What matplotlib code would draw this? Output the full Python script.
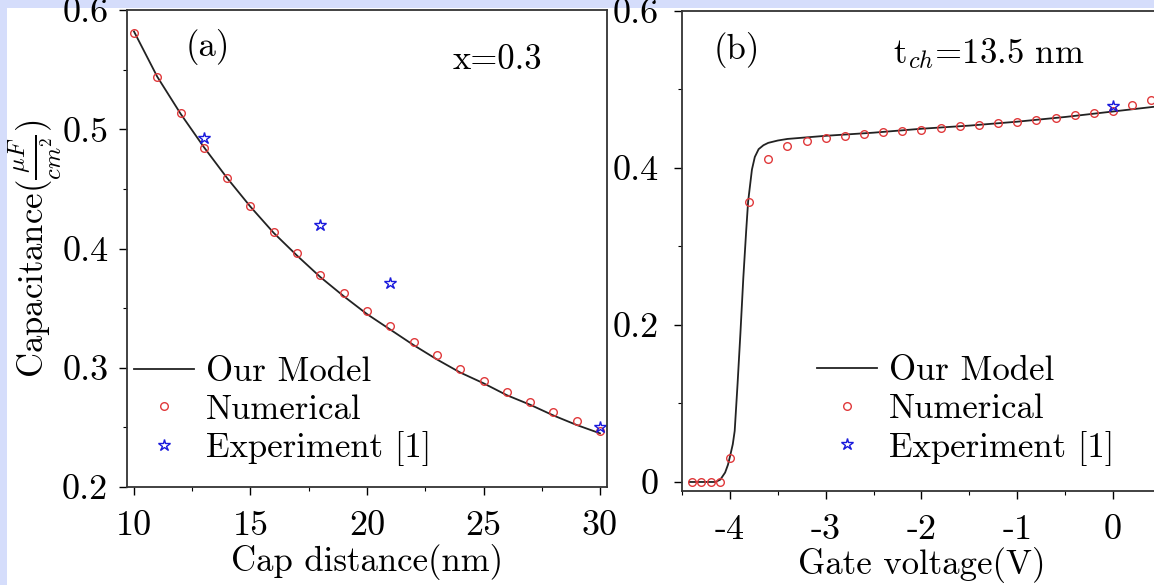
import matplotlib
matplotlib.use("Agg")
import matplotlib.pyplot as plt
from matplotlib.patches import Rectangle
from matplotlib.ticker import MultipleLocator

plt.rcParams['font.family'] = ['cmr10', 'DejaVu Serif']
plt.rcParams['mathtext.fontset'] = 'cm'
plt.rcParams['axes.unicode_minus'] = False
plt.rcParams['axes.formatter.use_mathtext'] = False

# (a) capacitance vs cap distance
cap_dist = [10, 11, 12, 13, 14, 15, 16, 17, 18, 19, 20,
            21, 22, 23, 24, 25, 26, 27, 28, 29, 30]
cap_num = [0.581, 0.544, 0.514, 0.484, 0.459, 0.436, 0.414, 0.396, 0.378, 0.363, 0.348,
           0.335, 0.322, 0.311, 0.299, 0.289, 0.280, 0.271, 0.263, 0.255, 0.247]
cap_model = [0.582, 0.544, 0.513, 0.485, 0.459, 0.435, 0.413, 0.394, 0.376, 0.360, 0.345,
             0.332, 0.319, 0.307, 0.296, 0.287, 0.277, 0.269, 0.260, 0.252, 0.245]
exp_dist = [13, 18, 21, 30]
exp_cap = [0.4925, 0.420, 0.371, 0.2505]

# (b) capacitance vs gate voltage
vg_num = [-4.4, -4.3, -4.2, -4.1, -4.0, -3.8, -3.6, -3.4, -3.2, -3.0, -2.8, -2.6, -2.4,
          -2.2, -2.0, -1.8, -1.6, -1.4, -1.2, -1.0, -0.8, -0.6, -0.4, -0.2, 0.0, 0.2, 0.4]
cg_num = [0.0, 0.0, 0.0, 0.0, 0.031, 0.357, 0.411, 0.428, 0.434, 0.438, 0.441, 0.443, 0.446,
          0.447, 0.449, 0.451, 0.453, 0.455, 0.457, 0.458, 0.461, 0.464, 0.467, 0.470, 0.473,
          0.480, 0.487]
vg_model = [-4.42, -4.2, -4.15, -4.1, -4.05, -4.02, -4.0, -3.97, -3.95, -3.92, -3.89, -3.86,
            -3.83, -3.81, -3.77, -3.74, -3.70, -3.65, -3.6, -3.5, -3.4, -3.2, -3.0, -2.5,
            -2.0, -1.5, -1.0, -0.5, 0.0, 0.5]
cg_model = [0.0, 0.0, 0.0, 0.003, 0.012, 0.022, 0.032, 0.048, 0.065, 0.125, 0.19, 0.26,
            0.32, 0.357, 0.398, 0.414, 0.424, 0.429, 0.432, 0.435, 0.437, 0.439, 0.441, 0.445,
            0.450, 0.454, 0.459, 0.465, 0.472, 0.479]
exp_vg = [0.0]
exp_cg = [0.479]

FS = 25
TFS = 26
red = '#e0393b'
blue = '#1a1adc'

fig = plt.figure(figsize=(11.54, 5.85), dpi=100)
fig.patch.set_facecolor('#d5ddfb')
fig.patches.append(Rectangle((7 / 1154, 0), 1, 1 - 8 / 585, transform=fig.transFigure,
                             facecolor='white', edgecolor='none', zorder=-10))

ax1 = fig.add_axes([127 / 1154, 1 - 487 / 585, 480 / 1154, 477 / 585])
ax2 = fig.add_axes([682 / 1154, 1 - 491 / 585, 479 / 1154, 480 / 585])

leg_kw = dict(frameon=False, fontsize=FS, handlelength=1.73, handletextpad=0.33,
              labelspacing=0.17, borderpad=0.0, borderaxespad=0.0, loc='lower left')

ax1.plot(cap_dist, cap_model, color='#222222', lw=1.3, label='Our Model')
ax1.plot(cap_dist, cap_num, 'o', mfc='none', mec=red, ms=5.5, mew=1.0, label='Numerical')
ax1.plot(exp_dist, exp_cap, '*', mfc='none', mec=blue, ms=9, mew=1.0, label='Experiment [1]')
ax1.set_xlim(9.7, 30.3)
ax1.set_ylim(0.2, 0.6)
ax1.xaxis.set_minor_locator(MultipleLocator(2.5))
ax1.yaxis.set_minor_locator(MultipleLocator(0.05))
ax1.set_xticks([10, 15, 20, 25, 30], ['10', '15', '20', '25', '30'])
ax1.set_yticks([0.2, 0.3, 0.4, 0.5, 0.6], ['0.2', '0.3', '0.4', '0.5', '0.6'])
ax1.set_xlabel('Cap distance(nm)', fontsize=FS, labelpad=2)
ax1.set_ylabel(r'Capacitance($\frac{\mu F}{cm^2}$)', fontsize=FS, labelpad=-2)
ax1.text(0.123, 0.922, '(a)', transform=ax1.transAxes, fontsize=FS, ha='left', va='center')
ax1.text(0.679, 0.895, 'x=0.3', transform=ax1.transAxes, fontsize=FS, ha='left', va='center')
ax1.legend(bbox_to_anchor=(0.0146, 0.043), **leg_kw)

ax2.plot(vg_model, cg_model, color='#222222', lw=1.3, label='Our Model')
ax2.plot(vg_num, cg_num, 'o', mfc='none', mec=red, ms=5.5, mew=1.0, label='Numerical')
ax2.plot(exp_vg, exp_cg, '*', mfc='none', mec=blue, ms=9, mew=1.0, label='Experiment [1]')
ax2.set_xlim(-4.5, 0.5)
ax2.set_ylim(-0.0115, 0.6)
ax2.xaxis.set_minor_locator(MultipleLocator(0.5))
ax2.yaxis.set_minor_locator(MultipleLocator(0.1))
ax2.set_xticks([-4, -3, -2, -1, 0], ['-4', '-3', '-2', '-1', '0'])
ax2.set_yticks([0, 0.2, 0.4, 0.6], ['0', '0.2', '0.4', '0.6'])
ax2.set_xlabel('Gate voltage(V)', fontsize=FS, labelpad=1)
ax2.text(0.065, 0.919, '(b)', transform=ax2.transAxes, fontsize=FS, ha='left', va='center')
ax2.text(0.44, 0.912, r't$_{ch}$=13.5 nm', transform=ax2.transAxes, fontsize=FS,
         ha='left', va='center')
ax2.legend(bbox_to_anchor=(0.282, 0.053), **leg_kw)

for ax in (ax1, ax2):
    ax.tick_params(which='major', direction='out', length=5.5, width=1.0, labelsize=TFS)
    ax.tick_params(which='minor', direction='out', length=3, width=0.8)
    ax.tick_params(axis='x', which='major', pad=11)
    for s in ax.spines.values():
        s.set_linewidth(1.3)
        s.set_color('#333333')
ax1.tick_params(axis='y', which='major', pad=8)
ax2.tick_params(axis='y', which='major', pad=11)

fig.savefig('out.png', dpi=100, facecolor=fig.get_facecolor())
